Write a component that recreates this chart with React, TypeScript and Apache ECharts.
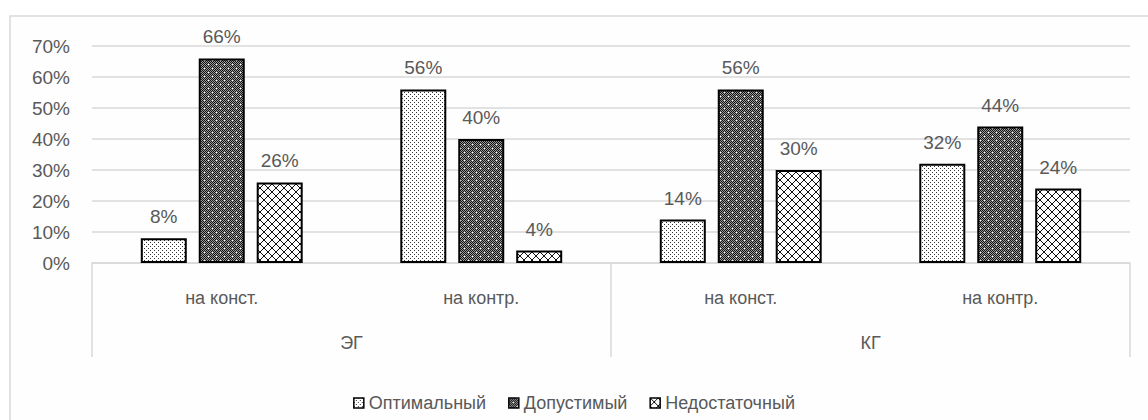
import React, { useEffect, useRef } from "react";
import * as echarts from "echarts";

const categories = ["на конст.", "на контр.", "на конст.", "на контр."];
const groups = ["ЭГ", "КГ"];
const seriesNames = ["Оптимальный", "Допустимый", "Недостаточный"];
const optimal = [8, 56, 14, 32];
const acceptable = [66, 40, 56, 44];
const insufficient = [26, 4, 30, 24];
const yTicks = [0, 10, 20, 30, 40, 50, 60, 70];

function makeTile(size: number, draw: (ctx: CanvasRenderingContext2D) => void) {
  const c = document.createElement("canvas");
  c.width = size;
  c.height = size;
  const ctx = c.getContext("2d")!;
  ctx.fillStyle = "#ffffff";
  ctx.fillRect(0, 0, size, size);
  draw(ctx);
  return c;
}

function dotsPattern() {
  return makeTile(4, (ctx) => {
    ctx.fillStyle = "#333";
    ctx.fillRect(0, 0, 1, 1);
    ctx.fillRect(2, 2, 1, 1);
  });
}

function darkPattern() {
  return makeTile(8, (ctx) => {
    for (let y = 0; y < 8; y++)
      for (let x = 0; x < 8; x++) {
        ctx.fillStyle = (x + y) % 2 === 0 ? "#111" : "#9a9a9a";
        ctx.fillRect(x, y, 1, 1);
      }
    ctx.fillStyle = "#ffffff";
    ctx.fillRect(4, 4, 1, 1);
    ctx.fillRect(0, 0, 1, 1);
  });
}

function crossPattern() {
  return makeTile(8, (ctx) => {
    ctx.fillStyle = "#111";
    for (let i = 0; i < 8; i++) {
      ctx.fillRect(i, i, 1, 1);
      ctx.fillRect(7 - i, i, 1, 1);
    }
  });
}

export default function App() {
  const ref = useRef<HTMLDivElement>(null);
  useEffect(() => {
    if (!ref.current) return;
    const chart = echarts.init(ref.current, undefined, { renderer: "svg" });
    const patterns = [dotsPattern(), darkPattern(), crossPattern()];
    const datas = [optimal, acceptable, insufficient];
    const font = "Liberation Sans";
    const textColor = "#595959";
    chart.setOption({
      animation: false,
      backgroundColor: "#ffffff",
      textStyle: { fontFamily: font },
      graphic: [
        {
          type: "rect",
          z: -10,
          shape: { x: 10, y: 16, width: 1200, height: 500 },
          style: { fill: "#fefefe", stroke: "#d9d9d9", lineWidth: 1.5 },
        },
      ],
      grid: { left: 92, right: 18, top: 46, bottom: 157 },
      legend: {
        top: 389,
        left: "center",
        icon: "rect",
        itemWidth: 10,
        itemHeight: 10,
        itemGap: 22,
        textStyle: { color: textColor, fontSize: 18, fontFamily: font },
        itemStyle: { borderColor: "#000", borderWidth: 1.5 },
        data: seriesNames,
      },
      xAxis: [
        {
          type: "category",
          data: categories,
          axisLine: { lineStyle: { color: "#d9d9d9", width: 1.5 } },
          axisTick: { show: false },
          axisLabel: { color: textColor, fontSize: 18, margin: 26, fontFamily: font },
        },
        {
          type: "category",
          data: groups,
          position: "bottom",
          axisLine: { show: false },
          axisTick: { show: true, length: 94, interval: 0, lineStyle: { color: "#d9d9d9", width: 1.5 } },
          axisLabel: { color: textColor, fontSize: 18, margin: 71, fontFamily: font },
        },
      ],
      yAxis: {
        type: "value",
        min: yTicks[0],
        max: yTicks[yTicks.length - 1],
        interval: 10,
        axisLine: { show: false },
        axisTick: { show: false },
        splitLine: { lineStyle: { color: "#d9d9d9", width: 1.5 } },
        axisLabel: { color: textColor, fontSize: 19, margin: 22, formatter: "{value}%", fontFamily: font },
      },
      series: seriesNames.map((name, i) => ({
        name,
        type: "bar",
        xAxisIndex: 0,
        data: datas[i],
        barWidth: 46,
        barGap: "26%",
        itemStyle: {
          color: { image: patterns[i], repeat: "repeat" },
          borderColor: "#000",
          borderWidth: 2,
        },
        label: {
          show: true,
          position: "top",
          distance: 12,
          formatter: "{c}%",
          color: textColor,
          fontSize: 19,
          fontFamily: font,
        },
      })),
    });
    return () => chart.dispose();
  }, []);
  return (
    <div
      ref={ref}
      style={{ position: "fixed", left: 0, top: 0, width: 1148, height: 420 }}
    />
  );
}
